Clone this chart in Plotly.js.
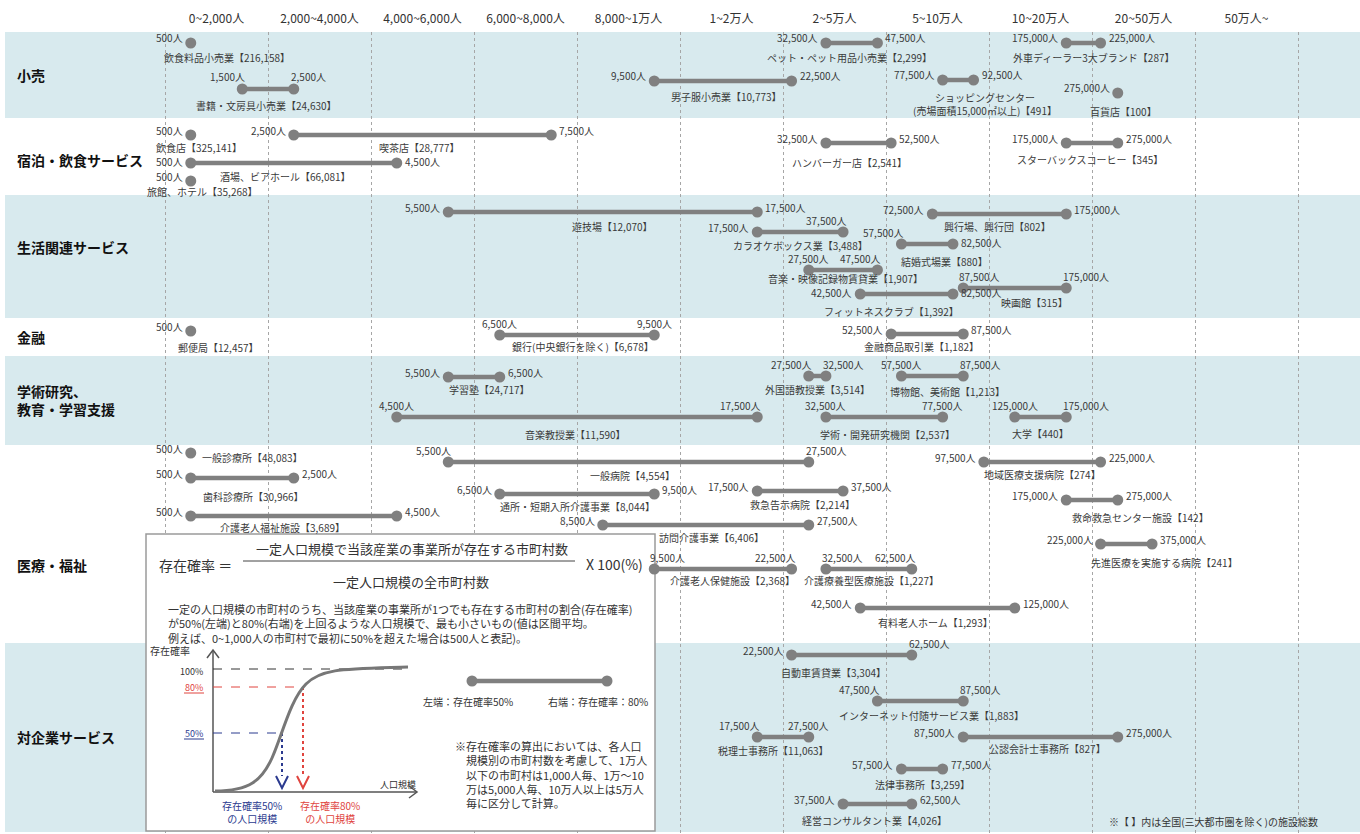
<!DOCTYPE html>
<html>
<head>
<meta charset="utf-8">
<script src="https://cdn.plot.ly/plotly-3.0.1.min.js"></script>
<style>body{margin:0;background:#fff}</style>
</head>
<body>
<div id="chart" style="width:1360px;height:834px"></div>
<script>
// 人口規模の区分 (列)
var popBands = ['0~2,000人', '2,000~4,000人', '4,000~6,000人', '6,000~8,000人', '8,000~1万人',
  '1~2万人', '2~5万人', '5~10万人', '10~20万人', '20~50万人', '50万人~'];
var bandEdges = [0, 2000, 4000, 6000, 8000, 10000, 20000, 50000, 100000, 200000, 500000, 1000000];

// 産業分類
var sectors = ['小売', '宿泊・飲食サービス', '生活関連サービス', '金融', '学術研究、<br>教育・学習支援', '医療・福祉', '対企業サービス'];

// 施設・業種名と全国(三大都市圏を除く)の施設総数
var facilityNames = ['飲食料品小売業', '書籍・文房具小売業', 'ペット・ペット用品小売業', '男子服小売業', '外車ディーラー3大ブランド',
  'ショッピングセンター<br>(売場面積15,000㎡以上)', '百貨店',
  '飲食店', '喫茶店', '酒場、ビアホール', '旅館、ホテル', 'ハンバーガー店', 'スターバックスコーヒー',
  '遊技場', '興行場、興行団', 'カラオケボックス業', '結婚式場業', '音楽・映像記録物賃貸業', '映画館', 'フィットネスクラブ',
  '郵便局', '銀行(中央銀行を除く)', '金融商品取引業',
  '学習塾', '外国語教授業', '博物館、美術館', '音楽教授業', '学術・開発研究機関', '大学',
  '一般診療所', '歯科診療所', '介護老人福祉施設', '一般病院', '通所・短期入所介護事業', '救急告示病院', '訪問介護事業',
  '介護老人保健施設', '介護療養型医療施設', '有料老人ホーム', '地域医療支援病院', '救命救急センター施設', '先進医療を実施する病院',
  '自動車賃貸業', 'インターネット付随サービス業', '税理士事務所', '公認会計士事務所', '法律事務所', '経営コンサルタント業'];
var facilityCounts = [216158, 24630, 2299, 10773, 287, 491, 100,
  325141, 28777, 66081, 35268, 2541, 345,
  12070, 802, 3488, 880, 1907, 315, 1392,
  12457, 6678, 1182,
  24717, 3514, 1213, 11590, 2537, 440,
  48083, 30966, 3689, 4554, 8044, 2214, 6406, 2368, 1227, 1293, 274, 142, 241,
  3304, 1883, 11063, 827, 3259, 4026];
// 存在確率50% / 80% となる人口規模 (null は左端のみ)
var pop50 = [500, 1500, 32500, 9500, 175000, 77500, 275000,
  500, 2500, 500, 500, 32500, 175000,
  5500, 72500, 17500, 57500, 27500, 87500, 42500,
  500, 6500, 52500,
  5500, 27500, 57500, 4500, 32500, 125000,
  500, 500, 500, 5500, 6500, 17500, 8500, 9500, 32500, 42500, 97500, 175000, 225000,
  22500, 47500, 17500, 87500, 57500, 37500];
var pop80 = [null, 2500, 47500, 22500, 225000, 92500, null,
  null, 7500, 4500, null, 52500, 275000,
  17500, 175000, 37500, 82500, 47500, 175000, 82500,
  null, 9500, 87500,
  6500, 32500, 87500, 17500, 77500, 175000,
  null, 2500, 4500, 27500, 9500, 37500, 27500, 22500, 62500, 125000, 225000, 275000, 375000,
  62500, 87500, 27500, 275000, 77500, 62500];

// 配置 (行の高さ px、名称のずれ、数値ラベルの置き方)
var bandTops = [32, 118, 195, 318, 356, 445, 643, 832];
var sectorLabelY = [75, 160, 247, 337, 400, 565, 737];
var rowY = [43, 89, 43, 81, 43, 80, 93,
  135, 135, 163, 181, 143, 143,
  212, 214, 232, 244, 270, 288, 294,
  331, 335, 334,
  377, 376, 376, 417, 417, 417,
  453, 478, 516, 462, 494, 491, 525, 569, 569, 608, 462, 500, 544,
  655, 701, 737, 737, 769, 804];
var nameShift = [[36,15],[-2,17],[-2,15],[4,16],[11,15],[27,24],[6,19],
  [8,12],[-3,12],[-8,13],[12,10],[-9,19],[-2,16],
  [10,14],[-2,12],[0,13],[17,17],[2,8],[20,14],[-15,17],
  [28,16],[6,11],[-6,12],
  [15,12],[0,13],[15,15],[-2,17],[3,17],[0,16],
  [62,4],[11,18],[-11,11],[4,13],[0,12],[2,13],[6,12],[10,11],[3,11],[-2,14],[0,12],[48,17],[38,18],
  [-18,17],[11,14],[-10,13],[7,11],[0,15],[-3,16]];
var labelMode = ['ss','oo','ss','ss','ss','ss','ss',
  'ss','ss','ll','ss','ss','ss',
  'ss','ss','si','ol','ci','io','ll',
  'ss','cc','ss',
  'ss','oo','co','ci','cc','co',
  'ss','ss','ss','oo','ss','ss','ss','ii','ii','ss','ss','ss','ss',
  'so','oo','oc','ss','ss','ss'];

var FONT = "'Noto Sans CJK JP', 'Noto Sans', sans-serif";
var GRAY = '#808080';
var PX = 103;      // 1列の幅
var X0 = 165;      // 0人の位置

// 人口 -> 列位置
function pos(v) {
  for (var i = 0; i < bandEdges.length - 1; i++) {
    if (v < bandEdges[i + 1]) return i + (v - bandEdges[i]) / (bandEdges[i + 1] - bandEdges[i]);
  }
  return bandEdges.length - 1;
}
function fmt(v) { return v.toLocaleString('en-US') + '人'; }
function cx(px) { return (px - X0) / PX; }
function X(px) { return px / 1360; }
function Y(py) { return 1 - py / 834; }
function P(x, y) { return X(x) + ',' + Y(y); }

var xs = [], ys = [];
for (var i = 0; i < facilityNames.length; i++) {
  xs.push(pos(pop50[i])); ys.push(rowY[i]);
  if (pop80[i] != null) { xs.push(pos(pop80[i])); ys.push(rowY[i]); }
  xs.push(null); ys.push(null);
}

var data = [{
  type: 'scatter', mode: 'lines+markers', x: xs, y: ys,
  line: {color: GRAY, width: 4.5}, marker: {color: GRAY, size: 11},
  hoverinfo: 'skip', showlegend: false, cliponaxis: false
}];

var annotations = [];
var small = {family: FONT, size: 10, color: '#3a3a3a'};

function valueLabel(v, y, side, mode) {
  var a = {x: pos(v), y: y, text: fmt(v), showarrow: false, font: small, yanchor: 'middle'};
  var L = side === 'L';
  if (mode === 's' || mode === 'l' || mode === 'd') {
    a.xanchor = L ? 'right' : 'left'; a.xshift = L ? -6 : 6;
    a.yshift = mode === 's' ? 5 : (mode === 'l' ? 2 : -4);
  }
  else if (mode === 'c') { a.xanchor = 'center'; a.yshift = 12; }
  else if (mode === 'o') { a.xanchor = L ? 'right' : 'left'; a.xshift = L ? 5 : -5; a.yshift = 12; }
  else { a.xanchor = L ? 'left' : 'right'; a.xshift = L ? -6 : 6; a.yshift = 12; }
  annotations.push(a);
}

for (var i = 0; i < facilityNames.length; i++) {
  valueLabel(pop50[i], rowY[i], 'L', labelMode[i][0]);
  var mid = pos(pop50[i]);
  if (pop80[i] != null) {
    valueLabel(pop80[i], rowY[i], 'R', labelMode[i][1]);
    mid = (pos(pop50[i]) + pos(pop80[i])) / 2;
  }
  annotations.push({
    x: mid, y: rowY[i] + nameShift[i][1], xshift: nameShift[i][0],
    text: facilityNames[i] + '【' + facilityCounts[i].toLocaleString('en-US') + '】',
    showarrow: false, font: small, xanchor: 'center', yanchor: 'middle'
  });
}

// 産業分類の帯と見出し
var shapes = [];
for (var s = 0; s < sectors.length; s++) {
  if (s % 2 === 0) {
    shapes.push({type: 'rect', xref: 'paper', yref: 'y', x0: X(5), x1: 1, y0: bandTops[s], y1: bandTops[s + 1],
      fillcolor: '#d8eaee', line: {width: 0}, layer: 'below'});
  }
  annotations.push({xref: 'paper', yref: 'y', x: X(15), y: sectorLabelY[s], xanchor: 'left', yanchor: 'middle',
    align: 'left', text: '<b>' + sectors[s] + '</b>', showarrow: false, font: {family: FONT, size: 14, color: '#111'}});
}

// 存在確率の説明枠
shapes.push({type: 'rect', xref: 'x', yref: 'y', x0: cx(146), x1: cx(655), y0: 534, y1: 831,
  fillcolor: '#fff', line: {color: '#9a9a9a', width: 1.5}, layer: 'between'});

function seg(x0, y0, x1, y1, color, width, dash) {
  shapes.push({type: 'line', xref: 'paper', yref: 'paper', x0: X(x0), y0: Y(y0), x1: X(x1), y1: Y(y1),
    line: {color: color, width: width, dash: dash || 'solid'}, layer: 'above'});
}
function path(d, color, width, dash) {
  shapes.push({type: 'path', xref: 'paper', yref: 'paper', path: d,
    line: {color: color, width: width, dash: dash || 'solid'}, layer: 'above'});
}
var RED = '#e0443e', BLUE = '#2b3a8f';
seg(243, 561, 575, 561, '#444', 1);
seg(213, 792, 213, 650, '#555', 1.5);
path('M' + P(207, 658) + ' L' + P(213, 650) + ' L' + P(219, 658), '#555', 1.5);
seg(213, 792, 417, 792, '#555', 1.5);
path('M' + P(409, 786) + ' L' + P(417, 792) + ' L' + P(409, 798), '#555', 1.5);
seg(213, 669, 408, 669, '#333', 1, 'dash');
seg(213, 687, 303, 687, RED, 1, 'dash');
seg(303, 687, 303, 776, RED, 2, 'dot');
seg(213, 733, 282, 733, BLUE, 1, 'dash');
seg(282, 733, 282, 776, BLUE, 2, 'dot');
path('M' + P(276, 776) + ' L' + P(282, 788) + ' L' + P(288, 776), BLUE, 2);
path('M' + P(297, 776) + ' L' + P(303, 788) + ' L' + P(309, 776), RED, 2);
seg(184, 693, 204, 693, RED, 1);
seg(184, 739, 204, 739, BLUE, 1);
path('M' + P(215, 791) + ' C' + P(250, 791) + ' ' + P(262, 780) + ' ' + P(272, 758) +
  ' S' + P(290, 700) + ' ' + P(306, 684) + ' S' + P(345, 669) + ' ' + P(408, 667), '#777', 3);
// 凡例のダンベル
seg(472, 681, 607, 681, GRAY, 4.5);
[472, 607].forEach(function (px) {
  shapes.push({type: 'circle', xref: 'paper', yref: 'paper', x0: X(px - 5.5), x1: X(px + 5.5), y0: Y(686.5), y1: Y(675.5),
    fillcolor: GRAY, line: {width: 0}, layer: 'above'});
});

function note(x, y, text, opt) {
  var a = {xref: 'paper', yref: 'paper', x: X(x), y: Y(y), text: text, showarrow: false,
    xanchor: 'left', yanchor: 'middle', align: 'left', font: {family: FONT, size: 10, color: '#333'}};
  for (var k in opt) a[k] = opt[k];
  annotations.push(a);
}
note(157, 565, '存在確率 ＝', {font: {family: FONT, size: 14, color: '#333'}});
note(412, 548, '一定人口規模で当該産業の事業所が存在する市町村数', {xanchor: 'center', font: {family: FONT, size: 13, color: '#333'}});
note(411, 581, '一定人口規模の全市町村数', {xanchor: 'center', font: {family: FONT, size: 13, color: '#333'}});
note(584, 564, 'X 100(%)', {font: {family: FONT, size: 14, color: '#333'}});
note(166, 623, '一定の人口規模の市町村のうち、当該産業の事業所が1つでも存在する市町村の割合(存在確率)<br>' +
  'が50%(左端)と80%(右端)を上回るような人口規模で、最も小さいもの(値は区間平均。<br>' +
  '例えば、0~1,000人の市町村で最初に50%を超えた場合は500人と表記)。', {font: {family: FONT, size: 11, color: '#333'}});
note(148, 650, '存在確率');
note(205, 671, '100%', {xanchor: 'right', font: {family: FONT, size: 9, color: '#333'}});
note(205, 687, '80%', {xanchor: 'right', font: {family: FONT, size: 9, color: RED}});
note(205, 733, '50%', {xanchor: 'right', font: {family: FONT, size: 9, color: BLUE}});
note(398, 784, '人口規模', {xanchor: 'center', font: {family: FONT, size: 9, color: '#333'}});
note(252, 812, '存在確率50%<br>の人口規模', {xanchor: 'center', align: 'center', font: {family: FONT, size: 10, color: BLUE}});
note(330, 812, '存在確率80%<br>の人口規模', {xanchor: 'center', align: 'center', font: {family: FONT, size: 10, color: RED}});
note(468, 701, '左端：存在確率50%', {xanchor: 'center'});
note(598, 701, '右端：存在確率：80%', {xanchor: 'center'});
note(453, 774, '※存在確率の算出においては、各人口<br>　規模別の市町村数を考慮して、1万人<br>　以下の市町村は1,000人毎、1万～10<br>' +
  '　万は5,000人毎、10万人以上は5万人<br>　毎に区分して計算。', {font: {family: FONT, size: 11, color: '#333'}});
note(1107, 821, '※【 】内は全国(三大都市圏を除く)の施設総数');

var tickPos = [];
for (var c = 0; c < popBands.length; c++) tickPos.push(c + 0.5);
var gridPos = [];
for (var c = 0; c <= popBands.length; c++) gridPos.push(c);

var layout = {
  width: 1360, height: 834,
  margin: {l: 0, r: 0, t: 0, b: 0},
  paper_bgcolor: '#fff', plot_bgcolor: 'rgba(0,0,0,0)',
  showlegend: false,
  xaxis: {
    range: [cx(0), cx(1360)], side: 'top', tickmode: 'array', tickvals: tickPos, ticktext: popBands,
    ticks: '', showgrid: false, zeroline: false, showline: false, fixedrange: true,
    ticklabelstandoff: 6,
    tickfont: {family: FONT, size: 12, color: '#333'},
    minor: {tickmode: 'array', tickvals: gridPos, showgrid: true, gridcolor: '#a6a6a6', griddash: 'dot', gridwidth: 1, ticks: ''}
  },
  yaxis: {domain: [0, 1 - 32 / 834], range: [834, 32], visible: false, fixedrange: true},
  shapes: shapes,
  annotations: annotations
};

Plotly.newPlot('chart', data, layout, {displayModeBar: false, staticPlot: true});
</script>
</body>
</html>
